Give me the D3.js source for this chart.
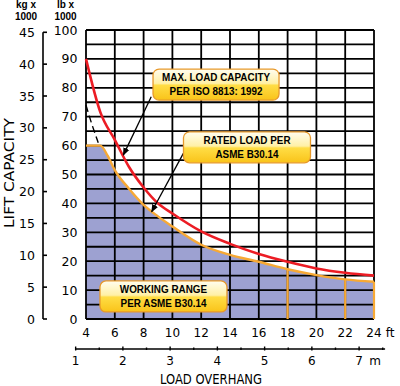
<!DOCTYPE html>
<html>
<head>
<meta charset="utf-8">
<script src="https://cdn.jsdelivr.net/npm/d3@7"></script>
<style>
  body { margin: 0; background: #fff; }
  svg { display: block; }
  text { font-family: "DejaVu Sans", sans-serif; fill: #000; }
</style>
</head>
<body>
<div class="display"></div>
<script>
// Lift capacity chart: max load vs rated load against load overhang

const WIDTH = 400;
const HEIGHT = 386;
const PLOT = { left: 86, right: 374, top: 30, bottom: 319 };
const LB_PER_KG = 2.20462;
const FT_PER_M = 3.28084;

const ftTicks = [4, 6, 8, 10, 12, 14, 16, 18, 20, 22, 24];
const lbTicks = [0, 10, 20, 30, 40, 50, 60, 70, 80, 90, 100];
const kgTicks = [0, 5, 10, 15, 20, 25, 30, 35, 40, 45];
const mTicks = [1, 2, 3, 4, 5, 6, 7];
const mMinor = [1.5, 2.5, 3.5, 4.5, 5.5, 6.5, 7.5];

// max load capacity (red), lb x 1000
const maxFt = [4, 5, 6, 7, 8, 9, 10, 12, 14, 16, 18, 20, 22, 24];
const maxLb = [90, 71.5, 62, 52.5, 45.5, 40, 36.5, 30.3, 26, 22.5, 19.8, 17.5, 16, 15];

// rated load / working range (orange), lb x 1000
const ratedFt = [4, 5, 5.5, 6, 7, 8, 9, 10, 12, 14, 16, 18, 20, 22, 24];
const ratedLb = [60, 60, 56.5, 51.5, 45, 39.5, 35.5, 32, 25.7, 22.2, 19.8, 17.2, 15.2, 13.7, 12.9];

// dashed continuation above the 60 cap
const dashFt = [4, 4.4, 4.85];
const dashLb = [74, 67.5, 61];

// orange dividers inside the working range
const dividerFt = [18, 22, 24];

const notes = [
  { lines: ['MAX. LOAD CAPACITY', 'PER ISO 8813: 1992'], ft: 13.03, lb: 81.1, w: 126, from: [8.53, 76.9], to: [6.59, 56.7] },
  { lines: ['RATED LOAD PER', 'ASME B30.14'], ft: 15.18, lb: 59.4, w: 127, from: [10.76, 57.3], to: [8.56, 37.1] },
  { lines: ['WORKING RANGE', 'PER ASME B30.14'], ft: 9.38, lb: 7.8, w: 127 }
];

const svg = d3.select('.display')
  .append('svg')
  .attr('width', WIDTH)
  .attr('height', HEIGHT);

const x = d3.scaleLinear().domain([4, 24]).range([PLOT.left, PLOT.right]);
const y = d3.scaleLinear().domain([0, 100]).range([PLOT.bottom, PLOT.top]);
const yKg = kg => y(kg * LB_PER_KG);
const xM = m => x(m * FT_PER_M);

const defs = svg.append('defs');
const grad = defs.append('linearGradient')
  .attr('id', 'boxGrad')
  .attr('x1', 0).attr('y1', 0).attr('x2', 0).attr('y2', 1);
[['0%', '#fffdf0'], ['46%', '#fff0a6'], ['52%', '#ffdd45'], ['100%', '#f9c319']].forEach(s => {
  grad.append('stop').attr('offset', s[0]).attr('stop-color', s[1]);
});
defs.append('marker')
  .attr('id', 'arrow')
  .attr('viewBox', '0 0 10 10')
  .attr('refX', 9).attr('refY', 5)
  .attr('markerWidth', 8).attr('markerHeight', 8)
  .attr('markerUnits', 'userSpaceOnUse')
  .attr('orient', 'auto')
  .append('path')
  .attr('d', 'M0,1 L10,5 L0,9 Z')
  .attr('fill', '#000');

const rated = ratedFt.map((f, i) => [f, ratedLb[i]]);
const maxPts = maxFt.map((f, i) => [f, maxLb[i]]);
const dashPts = dashFt.map((f, i) => [f, dashLb[i]]);

// working range fill
svg.append('path')
  .attr('d', d3.area().x(d => x(d[0])).y0(y(0)).y1(d => y(d[1])).curve(d3.curveMonotoneX)(rated))
  .attr('fill', '#9da1d1');

// grid
const grid = svg.append('g').attr('stroke', '#000').attr('stroke-width', 1.8);
grid.selectAll('.v')
  .data(ftTicks)
  .enter()
  .append('line')
  .attr('x1', d => x(d)).attr('x2', d => x(d))
  .attr('y1', y(0)).attr('y2', y(100));
grid.selectAll('.h')
  .data(y.ticks(20))
  .enter()
  .append('line')
  .attr('x1', x(4)).attr('x2', x(24))
  .attr('y1', d => y(d)).attr('y2', d => y(d));

// orange dividers
svg.selectAll('.divider')
  .data(dividerFt)
  .enter()
  .append('line')
  .attr('x1', d => x(d)).attr('x2', d => x(d))
  .attr('y1', y(0))
  .attr('y2', d => y(ratedLb[ratedFt.indexOf(d)]))
  .attr('stroke', '#f7a935')
  .attr('stroke-width', 2.2);

const line = d3.line().x(d => x(d[0])).y(d => y(d[1])).curve(d3.curveMonotoneX);

svg.append('path')
  .attr('d', line(rated))
  .attr('fill', 'none')
  .attr('stroke', '#f7a935')
  .attr('stroke-width', 2.4);

svg.append('path')
  .attr('d', line(maxPts))
  .attr('fill', 'none')
  .attr('stroke', '#ec1c24')
  .attr('stroke-width', 2.6);

svg.append('path')
  .attr('d', d3.line().x(d => x(d[0])).y(d => y(d[1])).curve(d3.curveNatural)(dashPts))
  .attr('fill', 'none')
  .attr('stroke', '#000')
  .attr('stroke-width', 1.4)
  .attr('stroke-dasharray', '7,4');

// left axes
const headFont = 'bold 10px "Liberation Sans", Arial, sans-serif';
[['kg  x', 26, 8], ['1000', 26, 20], ['lb  x', 65.5, 8], ['1000', 65.5, 20]].forEach(h => {
  svg.append('text').attr('x', h[1]).attr('y', h[2]).attr('text-anchor', 'middle')
    .style('font', headFont).text(h[0]);
});

svg.append('line')
  .attr('x1', 43).attr('x2', 43)
  .attr('y1', yKg(45)).attr('y2', yKg(0))
  .attr('stroke', '#000').attr('stroke-width', 1.6);
svg.selectAll('.kgtick')
  .data(kgTicks)
  .enter()
  .append('line')
  .attr('x1', 43).attr('x2', 47)
  .attr('y1', d => yKg(d)).attr('y2', d => yKg(d))
  .attr('stroke', '#000').attr('stroke-width', 1.6);
svg.selectAll('.kglabel')
  .data(kgTicks)
  .enter()
  .append('text')
  .attr('x', 35)
  .attr('y', d => yKg(d))
  .attr('dy', '0.36em')
  .attr('text-anchor', 'end')
  .style('font-size', '12.5px')
  .text(d => d);

svg.selectAll('.lblabel')
  .data(lbTicks)
  .enter()
  .append('text')
  .attr('x', 77.5)
  .attr('y', d => y(d))
  .attr('dy', '0.36em')
  .attr('text-anchor', 'end')
  .style('font-size', '12.5px')
  .text(d => d);

svg.append('text')
  .attr('transform', 'translate(14,173) rotate(-90)')
  .attr('text-anchor', 'middle')
  .attr('textLength', 110)
  .attr('lengthAdjust', 'spacingAndGlyphs')
  .style('font-family', '"DejaVu Sans Condensed", "DejaVu Sans", sans-serif')
  .style('font-size', '14px')
  .text('LIFT CAPACITY');

// bottom axes
svg.selectAll('.ftlabel')
  .data(ftTicks)
  .enter()
  .append('text')
  .attr('x', d => x(d))
  .attr('y', 333)
  .attr('dy', '0.36em')
  .attr('text-anchor', 'middle')
  .style('font-size', '12px')
  .text(d => d);
svg.append('text').attr('x', 390).attr('y', 333).attr('dy', '0.36em')
  .attr('text-anchor', 'middle').style('font-size', '12px').text('ft');

svg.append('line')
  .attr('x1', xM(1)).attr('x2', xM(7.55))
  .attr('y1', 349).attr('y2', 349)
  .attr('stroke', '#000').attr('stroke-width', 1.4);
svg.selectAll('.mtick')
  .data(mTicks)
  .enter()
  .append('line')
  .attr('x1', d => xM(d)).attr('x2', d => xM(d))
  .attr('y1', 346.5).attr('y2', 350.5)
  .attr('stroke', '#000').attr('stroke-width', 1.4);
svg.selectAll('.mminor')
  .data(mMinor)
  .enter()
  .append('line')
  .attr('x1', d => xM(d)).attr('x2', d => xM(d))
  .attr('y1', 347.5).attr('y2', 350)
  .attr('stroke', '#000').attr('stroke-width', 1.4);
svg.selectAll('.mlabel')
  .data(mTicks)
  .enter()
  .append('text')
  .attr('x', d => xM(d))
  .attr('y', 361)
  .attr('dy', '0.36em')
  .attr('text-anchor', 'middle')
  .style('font-size', '12px')
  .text(d => d);
svg.append('text').attr('x', 375).attr('y', 361).attr('dy', '0.36em')
  .attr('text-anchor', 'middle').style('font-size', '12px').text('m');

svg.append('text')
  .attr('x', 211).attr('y', 379)
  .attr('dy', '0.36em')
  .attr('text-anchor', 'middle')
  .attr('textLength', 102)
  .attr('lengthAdjust', 'spacingAndGlyphs')
  .style('font-family', '"DejaVu Sans Condensed", "DejaVu Sans", sans-serif')
  .style('font-size', '14px')
  .text('LOAD OVERHANG');

// callouts
notes.filter(n => n.from).forEach(n => {
  svg.append('line')
    .attr('x1', x(n.from[0])).attr('y1', y(n.from[1]))
    .attr('x2', x(n.to[0])).attr('y2', y(n.to[1]))
    .attr('stroke', '#000')
    .attr('stroke-width', 1.3)
    .attr('marker-end', 'url(#arrow)');
});

const boxes = svg.selectAll('.note')
  .data(notes)
  .enter()
  .append('g')
  .attr('class', 'note')
  .attr('transform', d => `translate(${x(d.ft)},${y(d.lb)})`);
boxes.append('rect')
  .attr('x', d => -d.w / 2).attr('y', -15.5)
  .attr('width', d => d.w).attr('height', 31)
  .attr('rx', 6)
  .attr('fill', 'url(#boxGrad)')
  .attr('stroke', '#e8992b')
  .attr('stroke-width', 1.3);
boxes.each(function(d) {
  d3.select(this).selectAll('text')
    .data(d.lines)
    .enter()
    .append('text')
    .attr('transform', (t, i) => `translate(0,${i === 0 ? -7.5 : 6.5}) scale(0.86,1)`)
    .attr('dy', '0.36em')
    .attr('text-anchor', 'middle')
    .style('font', 'bold 11.5px "Liberation Sans", Arial, sans-serif')
    .text(t => t);
});
</script>
</body>
</html>
